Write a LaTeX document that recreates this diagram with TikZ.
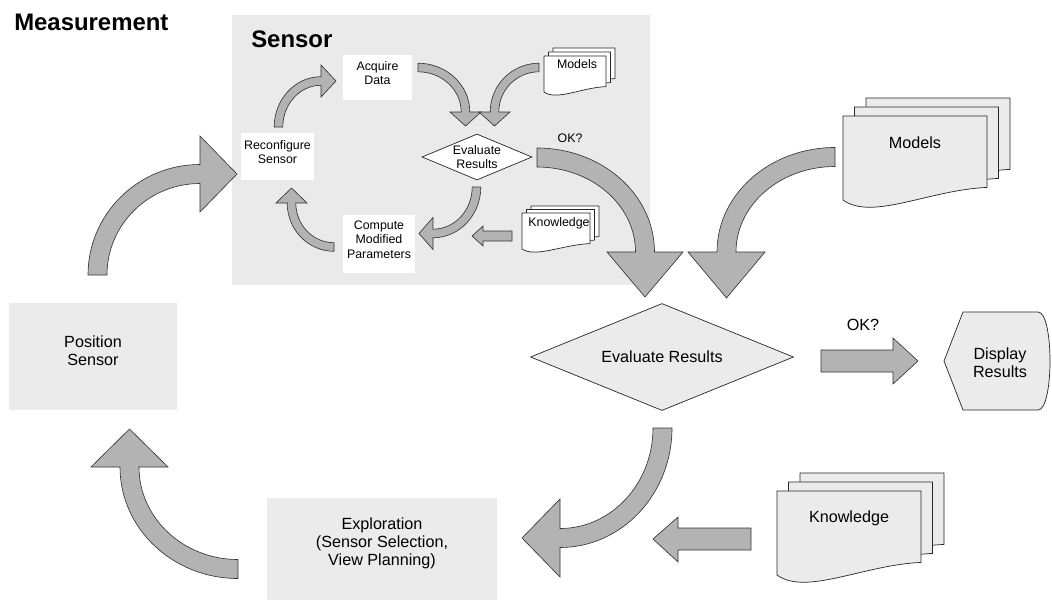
\documentclass[tikz,border=0pt]{standalone}
\usepackage{fontspec}
\setmainfont{Liberation Sans}
\usetikzlibrary{positioning,calc,fit,shapes.geometric}
\definecolor{PanelGray}{RGB}{234,234,234}
\definecolor{BoxGray}{RGB}{235,235,235}
\definecolor{ArrowGray}{RGB}{179,179,179}
% bent block arrow: centre, x/y radius, start/end angle, half shaft, half head, head length
\newcommand{\bentarrow}[8]{%
  \pgfmathsetmacro{\tipdir}{#5+90*(#5-#4)/abs(#5-#4)}%
  \draw[blk] ($(#1)+(#4:{#2+#6} and {#3+#6})$)
    arc[start angle=#4, end angle=#5, x radius={#2+#6}, y radius={#3+#6}]
    -- ($(#1)+(#5:{#2+#7} and {#3+#7})$)
    -- ($(#1)+(#5:#2 and #3)+(\tipdir:#8)$)
    -- ($(#1)+(#5:{#2-#7} and {#3-#7})$)
    -- ($(#1)+(#5:{#2-#6} and {#3-#6})$)
    arc[start angle=#5, end angle=#4, x radius={#2-#6}, y radius={#3-#6}]
    -- cycle;}
% one sheet with a wavy lower edge
\newcommand{\docsheet}[5]{%
  \pgfmathsetmacro{\dxl}{#2}\pgfmathsetmacro{\dxr}{#4}%
  \pgfmathsetmacro{\dyt}{#3}\pgfmathsetmacro{\dyb}{#5}%
  \pgfmathsetmacro{\dw}{\dxr-\dxl}\pgfmathsetmacro{\dh}{\dyb-\dyt}%
  \draw[doc, fill=#1] (\dxl,-\dyt) -- (\dxr,-\dyt) -- (\dxr,{-\dyb+0.15*\dh})
    .. controls ({\dxr-0.4*\dw},{-\dyb+0.12*\dh}) and ({\dxl+0.2*\dw},{-\dyb-0.25*\dh}) .. (\dxl,-\dyb) -- cycle;}
\newcommand{\docstack}[7]{%
  \docsheet{#1}{#2+2*#6}{#3-2*#7}{#4+2*#6}{#5-2*#7}%
  \docsheet{#1}{#2+#6}{#3-#7}{#4+#6}{#5-#7}%
  \docsheet{#1}{#2}{#3}{#4}{#5}}

\begin{document}
\begin{tikzpicture}[x=0.025cm, y=0.025cm,
    smalltxt/.style={font=\fontsize{8.8}{10}\selectfont},
    bigtxt/.style={font=\fontsize{11.5}{12.8}\selectfont},
    heading/.style={font=\fontsize{17}{20}\selectfont\bfseries, anchor=base west, inner sep=0},
    panel/.style={fill=PanelGray, inner sep=0},
    smallbox/.style={smalltxt, fill=white, inner sep=0, align=center},
    bigbox/.style={bigtxt, fill=BoxGray, inner sep=0, align=center},
    smalldia/.style={smalltxt, diamond, aspect=2.4, draw=black!85, line width=0.5pt, fill=white, inner sep=0,
      minimum width=2.75cm, minimum height=1.15cm, align=center},
    bigdia/.style={bigtxt, diamond, aspect=2.46, draw=black!85, line width=0.5pt, fill=BoxGray, inner sep=0,
      minimum width=6.575cm, minimum height=2.675cm, align=center},
    blk/.style={fill=ArrowGray, draw=black!80, line width=0.45pt},
    doc/.style={draw=black!85, line width=0.5pt},
    lab/.style={inner sep=0, align=center}
  ]
    \useasboundingbox (0,0) rectangle (1052,-600);

    % sensor loop
    \node[panel, fit={(232,-15) (650,-285)}] (sensorpanel) {};
    \node[heading] (measure) at (14,-30) {Measurement};
    \node[heading] (sensortitle) at (251,-47) {Sensor};

    \node[smallbox, fit={(343,-55) (412,-100)}] (acquire) {Acquire\\Data};
    \node[smallbox, fit={(241,-133) (314,-180)}] (reconf) {Reconfigure\\Sensor};
    \node[smallbox, fit={(343,-215) (415,-273)}] (compute) {Compute\\Modified\\Parameters};
    \node[smalldia] (evalsm) at (477,-157) {Evaluate\\Results};

    \docstack{white}{544}{56}{606}{92}{4.5}{4}
    \node[lab, smalltxt] (modelssm) at (577,-64) {Models};
    \docstack{white}{522}{213}{590}{249}{4.5}{3.5}
    \node[lab, smalltxt] (knowsm) at (559,-223) {Knowledge};
    \node[lab, smalltxt] (oksm) at (570,-138) {OK?};

    \coordinate (ca) at (418,-112);
    \coordinate (cb) at (539,-112);
    \coordinate (cc) at (433,-187);
    \coordinate (ce) at (334,-203);
    \coordinate (cf) at (321,-127);
    \bentarrow{ca}{47.5}{44.5}{90}{0}{4.3}{15.5}{14}
    \bentarrow{cb}{44.5}{44.5}{90}{180}{4.3}{15.5}{14}
    \bentarrow{cc}{43.5}{46.5}{0}{-90}{4.3}{16}{14}
    \bentarrow{ce}{42.5}{44}{270}{180}{4.3}{15.5}{15}
    \bentarrow{cf}{42.5}{46}{180}{90}{4.3}{16}{15}
    \draw[blk] (512,-231) -- (483,-231) -- (483,-226) -- (472,-236) -- (483,-246) -- (483,-241) -- (512,-241) -- cycle;

    % outer loop
    \node[bigbox, fit={(9,-303) (177,-410)}] (position) {Position\\Sensor};
    \node[bigbox, fit={(267,-498) (497,-600)}] (explore) {Exploration\\(Sensor Selection,\\View Planning)};
    \node[bigdia] (evalbig) at (662,-357) {Evaluate Results};

    \docstack{BoxGray}{843}{116}{987}{200}{11.5}{9}
    \node[lab, bigtxt] (modelsbig) at (915,-143) {Models};
    \docstack{BoxGray}{777}{491}{921}{575}{11.5}{9}
    \node[lab, bigtxt] (knowbig) at (849,-518) {Knowledge};

    \draw[doc, fill=BoxGray] (963,-312) -- (1038,-312) .. controls (1054,-312) and (1054,-410) .. (1038,-410)
      -- (963,-410) -- (944,-361) -- cycle;
    \node[lab, bigtxt] (display) at (1000,-363) {Display\\Results};
    \node[lab, bigtxt] (okbig) at (863,-325) {OK?};

    \coordinate (cg) at (200,-275);
    \coordinate (cl) at (238,-467);
    \coordinate (cj) at (560,-428);
    \coordinate (ch) at (537,-252);
    \coordinate (ci) at (835,-252);
    \bentarrow{cg}{102.5}{101}{180}{90}{9.5}{38}{37}
    \bentarrow{cl}{108.5}{102}{270}{180}{9.5}{38.5}{38}
    \bentarrow{cj}{102.5}{110}{0}{-90}{9.5}{39}{38}
    \bentarrow{ch}{108}{94.5}{90}{0}{9.5}{38}{45}
    \bentarrow{ci}{108.5}{95}{90}{180}{9.5}{38.5}{46}
    \draw[blk] (821,-350) -- (893,-350) -- (893,-338) -- (918,-361) -- (893,-384) -- (893,-372) -- (821,-372) -- cycle;
    \draw[blk] (751,-528) -- (678,-528) -- (678,-517) -- (653,-539) -- (678,-562) -- (678,-550) -- (751,-550) -- cycle;
\end{tikzpicture}
\end{document}
